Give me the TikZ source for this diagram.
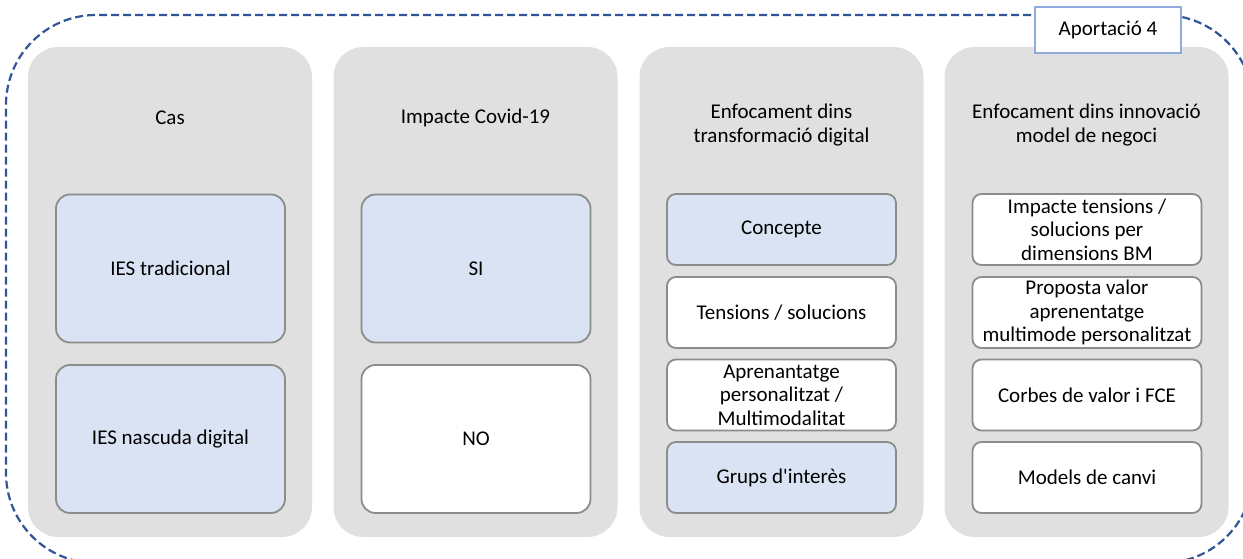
\documentclass[tikz,border=0pt]{standalone}
\usepackage{fontspec}
\setmainfont{Carlito}
% same face without TeX ligature mapping, for a straight apostrophe
\newfontfamily\plainface{Carlito}
\definecolor{framebl}{HTML}{2F5597}
\definecolor{colgray}{HTML}{E0E0E0}
\definecolor{boxblue}{HTML}{DAE3F3}
\definecolor{boxedge}{HTML}{8C8C8C}
\definecolor{tagedge}{HTML}{8FAADC}
\tikzset{
  outerframe/.style={draw=framebl, line width=2.2pt, dash pattern=on 8pt off 4pt,
    rounded corners=90pt, inner sep=0},
  column/.style={fill=colgray, rounded corners=30pt, minimum width=284pt,
    minimum height=490pt, inner sep=0},
  header/.style={align=center, font=\fontsize{21}{24.5}\selectfont, inner sep=0},
  boxbase/.style={draw=boxedge, line width=1.8pt, minimum width=229pt, align=center,
    font=\fontsize{21}{23.5}\selectfont, inner sep=0},
  bigbox/.style={boxbase, rounded corners=14pt, minimum height=148pt},
  smallbox/.style={boxbase, rounded corners=9pt, minimum height=71pt},
  bluefill/.style={fill=boxblue},
  whitefill/.style={fill=white},
  tag/.style={draw=tagedge, line width=1.5pt, fill=white, minimum width=146pt,
    minimum height=46pt, font=\fontsize{21}{24}\selectfont, inner sep=0}
}
\begin{document}
\begin{tikzpicture}[x=1pt,y=-1pt]
\useasboundingbox (0,0) rectangle (1243,559);

% dashed outer frame (runs past the right and bottom edges)
\begin{scope}
  \clip (0,0) rectangle (1243,559);
  \node[outerframe, minimum width=1247pt, minimum height=548pt] (frame) at (629.5,289) {};
\end{scope}

% four grey columns
\node[column] (c1) at (170,292) {};
\node[column] (c2) at (475.5,292) {};
\node[column] (c3) at (781.5,292) {};
\node[column] (c4) at (1086.5,292) {};

% column headings
\node[header] (h1) at (170,118) {Cas};
\node[header] (h2) at (475.5,118) {Impacte Covid-19};
\node[header] (h3) at (781.5,125) {Enfocament dins\\transformació digital};
\node[header] (h4) at (1086.5,125) {Enfocament dins innovació\\model de negoci};

% column 1
\node[bigbox, bluefill] (ies1) at (170.5,268.5) {IES tradicional};
\node[bigbox, bluefill] (ies2) at (170.5,439) {IES nascuda digital};

% column 2
\node[bigbox, bluefill] (si) at (476,268.5) {SI};
\node[bigbox, whitefill] (no) at (476,439) {NO};

% column 3
\node[smallbox, bluefill] (td1) at (781.5,229.5) {Concepte};
\node[smallbox, whitefill] (td2) at (781.5,312.5) {Tensions / solucions};
\node[smallbox, whitefill] (td3) at (781.5,395) {Aprenantatge\\personalitzat /\\Multimodalitat};
\node[smallbox, bluefill] (td4) at (781.5,477.5) {{\plainface Grups d'interès}};

% column 4
\node[smallbox, whitefill] (bm1) at (1087,229.5) {Impacte tensions /\\solucions per\\dimensions BM};
\node[smallbox, whitefill] (bm2) at (1087,312.5) {Proposta valor\\aprenentatge\\multimode personalitzat};
\node[smallbox, whitefill] (bm3) at (1087,395) {Corbes de valor i FCE};
\node[smallbox, whitefill] (bm4) at (1087,477.5) {Models de canvi};

% label on the frame
\node[tag] (label) at (1108,30) {Aportació 4};
\end{tikzpicture}
\end{document}
